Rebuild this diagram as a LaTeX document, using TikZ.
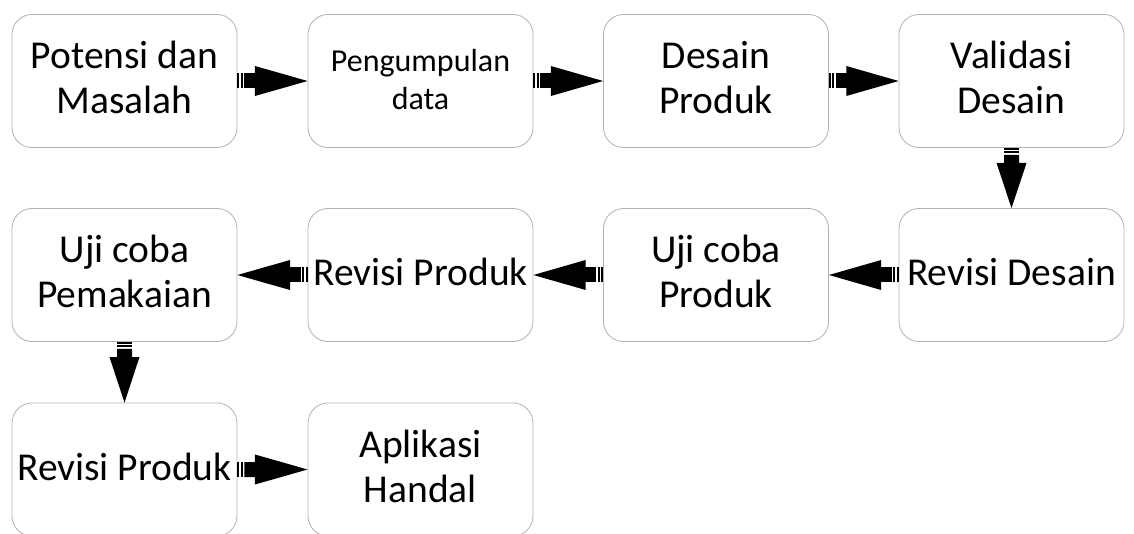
\documentclass[tikz,border=0pt]{standalone}
\usepackage{fontspec}
\setmainfont{Carlito}
\usetikzlibrary{calc}

\tikzset{
  stage/.style={draw=black!30, line width=0.8pt, fill=white, rounded corners=20pt,
    minimum width=225pt, minimum height=133pt, align=center, inner sep=0pt,
    font=\fontsize{39.5}{45}\selectfont},
  smalltext/.style={font=\fontsize{32}{38}\selectfont},
  linkfill/.style={fill=black},
}
% line struts so every label sits at the same height in its box
\newcommand\lnA{\rule[-12pt]{0pt}{45pt}}
\newcommand\lnB{\rule[-7pt]{0pt}{34pt}}

% one bar of the arrow shaft between two points on the axis (s)--(e)
\newcommand\linkbar[2]{%
  \fill[linkfill] ($(#1)!7.5pt!90:(e)$) -- ($(#1)!7.5pt!-90:(e)$)
    -- ($(#2)!7.5pt!-90:(e)$) -- ($(#2)!7.5pt!90:(e)$) -- cycle;}

% block arrow with a striped tail, from anchor #1 to anchor #2
\newcommand\fatlink[2]{%
  \coordinate (s) at (#1);
  \coordinate (e) at (#2);
  \coordinate (t1) at ($(s)!2pt!(e)$);
  \coordinate (t2) at ($(s)!3.5pt!(e)$);
  \coordinate (t3) at ($(s)!5.5pt!(e)$);
  \coordinate (t4) at ($(s)!7pt!(e)$);
  \coordinate (h) at ($(s)!0.25!(e)$);
  \coordinate (h2) at ($(s)!0.27!(e)$);
  \linkbar{s}{t1}
  \linkbar{t2}{t3}
  \linkbar{t4}{h2}
  \fill[linkfill] ($(h)!15pt!90:(e)$) -- (e) -- ($(h)!15pt!-90:(e)$) -- cycle;}

\begin{document}
\begin{tikzpicture}[x=1pt, y=-1pt]
  \useasboundingbox (0,0) rectangle (1134,534);
  \clip (0,0) rectangle (1134,534);

  % first row
  \node[stage] (p1) at (124.5,81) {\lnA Potensi dan\\\lnA Masalah};
  \node[stage, smalltext] (p2) at (420.5,81) {\lnB Pengumpulan\\\lnB data};
  \node[stage] (p3) at (716,81) {\lnA Desain\\\lnA Produk};
  \node[stage] (p4) at (1011.5,81) {\lnA Validasi\\\lnA Desain};

  % second row
  \node[stage] (p5) at (1011.5,275) {\lnA Revisi Desain};
  \node[stage] (p6) at (716,275) {\lnA Uji coba\\\lnA Produk};
  \node[stage] (p7) at (420.5,275) {\lnA Revisi Produk};
  \node[stage] (p8) at (124.5,275) {\lnA Uji coba\\\lnA Pemakaian};

  % third row
  \node[stage] (p9) at (124.5,469.5) {\lnA Revisi Produk};
  \node[stage] (p10) at (420.5,469.5) {\lnA Aplikasi\\\lnA Handal};

  % flow
  \fatlink{p1.east}{p2.west}
  \fatlink{p2.east}{p3.west}
  \fatlink{p3.east}{p4.west}
  \fatlink{p4.south}{p5.north}
  \fatlink{p5.west}{p6.east}
  \fatlink{p6.west}{p7.east}
  \fatlink{p7.west}{p8.east}
  \fatlink{p8.south}{p9.north}
  \fatlink{p9.east}{p10.west}
\end{tikzpicture}
\end{document}
